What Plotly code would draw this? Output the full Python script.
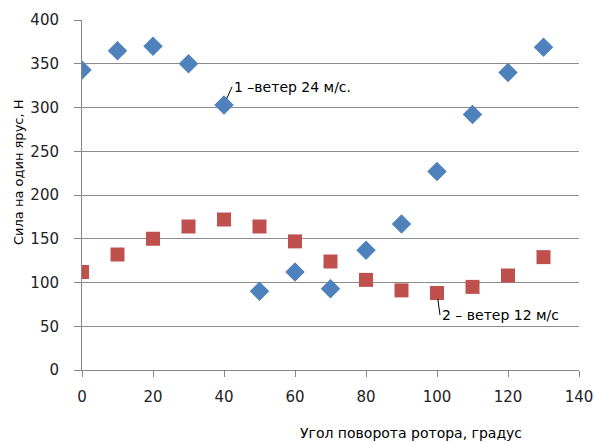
import plotly.graph_objects as go

angles = [0, 10, 20, 30, 40, 50, 60, 70, 80, 90, 100, 110, 120, 130]
wind24 = [343, 365, 370, 350, 303, 90, 112, 93, 137, 167, 227, 292, 340, 369]
wind12 = [112, 132, 150, 164, 172, 164, 147, 124, 103, 91, 88, 95, 108, 129]
label1 = "1 –ветер 24 м/с."
label2 = "2 – ветер 12 м/с"
x_title = "Угол поворота ротора, градус"
y_title = "Сила на один ярус, Н"

font = "DejaVu Sans"
fig = go.Figure()
fig.add_trace(go.Scatter(x=angles, y=wind24, mode="markers",
                         marker=dict(symbol="diamond", size=15, color="#4F81BD",
                                     line=dict(width=0))))
fig.add_trace(go.Scatter(x=angles, y=wind12, mode="markers",
                         marker=dict(symbol="square", size=14, color="#C0504D",
                                     line=dict(width=0))))

fig.add_annotation(x=40, y=wind24[4], text=label1, showarrow=True, arrowhead=0,
                   arrowwidth=1, arrowcolor="#000", standoff=7,
                   ax=8, ay=-18, xanchor="left", yanchor="middle",
                   font=dict(family=font, size=14, color="#000"))
fig.add_annotation(x=100, y=wind12[10], text=label2, showarrow=True, arrowhead=0,
                   arrowwidth=1, arrowcolor="#000", standoff=6,
                   ax=3, ay=22, xanchor="left", yanchor="middle",
                   bgcolor="white", borderpad=1,
                   font=dict(family=font, size=14, color="#000"))

fig.add_annotation(xref="paper", yref="paper", x=(411 - 82) / 497, y=0, yshift=-63,
                   text=x_title, showarrow=False, xanchor="center", yanchor="middle",
                   font=dict(family=font, size=14, color="#000"))
fig.add_annotation(xref="paper", yref="paper", x=0, y=(370 - 172) / 350, xshift=-64,
                   text=y_title, showarrow=False, textangle=-90,
                   xanchor="center", yanchor="middle",
                   font=dict(family=font, size=13, color="#000"))

fig.update_layout(
    width=594, height=442, margin=dict(l=82, r=15, t=20, b=72),
    paper_bgcolor="white", plot_bgcolor="white", showlegend=False,
    font=dict(family=font, size=15, color="#222"),
)
fig.update_xaxes(range=[0, 140], tickvals=list(range(0, 141, 20)), showgrid=False,
                 showline=True, linecolor="#868686", linewidth=1, automargin=False,
                 ticks="outside", ticklen=6, tickcolor="#868686", zeroline=False,
                 ticklabelstandoff=7)
fig.update_yaxes(range=[0, 400], tickvals=list(range(0, 401, 50)), showgrid=True,
                 gridcolor="#8c8c8c", gridwidth=1, automargin=False,
                 showline=True, linecolor="#868686", linewidth=1,
                 ticks="outside", ticklen=7, tickcolor="#868686", zeroline=False,
                 ticklabelstandoff=12)

fig.write_html("out.html")
